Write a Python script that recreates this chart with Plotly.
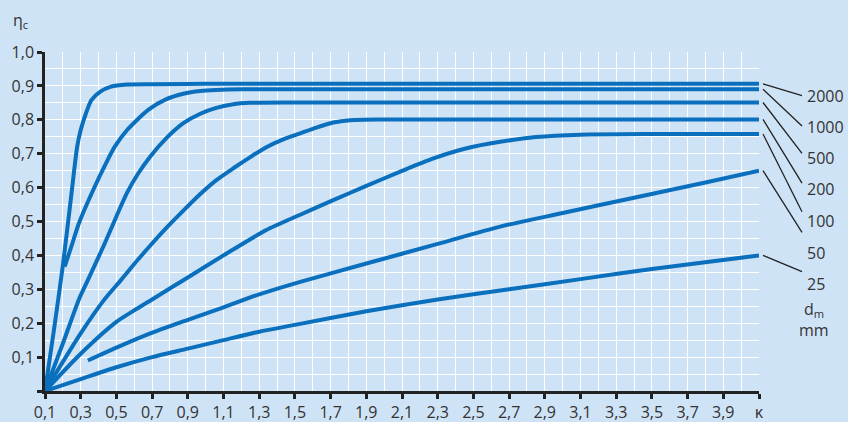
import plotly.graph_objects as go

# ---- data -------------------------------------------------------------
series_names = ["2000", "1000", "500", "200", "100", "50", "25"]

k_2000 = [0.1, 0.15, 0.2, 0.25, 0.28, 0.3, 0.33, 0.36, 0.41, 0.47, 0.56, 0.7, 1.0, 2.5, 4.1]
eta_2000 = [0.0, 0.18, 0.37, 0.59, 0.72, 0.77, 0.82, 0.858, 0.883, 0.898, 0.904, 0.905, 0.906, 0.906, 0.906]

k_1000 = [0.21, 0.25, 0.29, 0.37, 0.44, 0.49, 0.56, 0.68, 0.78, 0.875, 0.97, 1.06, 1.2, 2.0, 4.1]
eta_1000 = [0.367, 0.43, 0.495, 0.593, 0.67, 0.72, 0.77, 0.83, 0.861, 0.877, 0.885, 0.888, 0.89, 0.89, 0.89]

k_500 = [0.1, 0.2, 0.29, 0.34, 0.43, 0.5, 0.56, 0.62, 0.69, 0.78, 0.875, 0.97, 1.06, 1.155, 1.25, 1.5, 2.5, 4.1]
eta_500 = [0.0, 0.14, 0.27, 0.327, 0.43, 0.515, 0.585, 0.64, 0.692, 0.746, 0.79, 0.818, 0.835, 0.846, 0.85, 0.851, 0.851, 0.851]

k_200 = [0.1, 0.3, 0.43, 0.53, 0.62, 0.7, 0.78, 0.875, 0.97, 1.06, 1.155, 1.25, 1.34, 1.435, 1.53, 1.62, 1.715, 1.81, 2.0, 3.0, 4.1]
eta_200 = [0.0, 0.17, 0.268, 0.33, 0.387, 0.435, 0.481, 0.532, 0.581, 0.622, 0.657, 0.69, 0.719, 0.742, 0.76, 0.777, 0.792, 0.799, 0.801, 0.801, 0.801]

k_100 = [0.1, 0.3, 0.5, 0.6, 0.7, 0.9, 1.1, 1.34, 1.53, 1.715, 1.9, 2.09, 2.276, 2.462, 2.65, 2.85, 3.1, 3.5, 4.1]
eta_100 = [0.0, 0.11, 0.204, 0.238, 0.27, 0.335, 0.4, 0.475, 0.52, 0.563, 0.605, 0.647, 0.686, 0.716, 0.735, 0.749, 0.756, 0.758, 0.758]

k_50 = [0.34, 0.5, 0.69, 0.9, 1.1, 1.3, 1.53, 1.9, 2.3, 2.65, 3.0, 3.4, 3.8, 4.1]
eta_50 = [0.09, 0.128, 0.17, 0.21, 0.247, 0.285, 0.322, 0.376, 0.434, 0.485, 0.525, 0.57, 0.615, 0.65]

k_25 = [0.1, 0.3, 0.5, 0.7, 0.9, 1.1, 1.3, 1.5, 1.9, 2.3, 2.7, 3.1, 3.5, 4.1]
eta_25 = [0.0, 0.035, 0.07, 0.1, 0.125, 0.15, 0.175, 0.195, 0.235, 0.27, 0.3, 0.33, 0.36, 0.4]

x_tickvals = [0.1, 0.3, 0.5, 0.7, 0.9, 1.1, 1.3, 1.5, 1.7, 1.9, 2.1, 2.3, 2.5, 2.7, 2.9, 3.1, 3.3, 3.5, 3.7, 3.9, 4.1]
x_ticktext = ["0,1", "0,3", "0,5", "0,7", "0,9", "1,1", "1,3", "1,5", "1,7", "1,9", "2,1",
              "2,3", "2,5", "2,7", "2,9", "3,1", "3,3", "3,5", "3,7", "3,9", "κ"]
y_tickvals = [0.0, 0.1, 0.2, 0.3, 0.4, 0.5, 0.6, 0.7, 0.8, 0.9, 1.0]
y_ticktext = ["", "0,1", "0,2", "0,3", "0,4", "0,5", "0,6", "0,7", "0,8", "0,9", "1,0"]

# label placement (eta level of label centre / leader end)
label_eta = [0.870, 0.780, 0.688, 0.595, 0.502, 0.408, 0.317]
leader_end_eta = [0.871, 0.782, 0.701, 0.613, 0.529, 0.468, 0.352]

# ---- figure -----------------------------------------------------------
BG = "#cfe3f6"
BLUE = "#0a6fbd"
TXT = "#333333"
FONT = "Open Sans"
Y_MIN, Y_MAX = 0.0, 1.0

ks = [k_2000, k_1000, k_500, k_200, k_100, k_50, k_25]
etas = [eta_2000, eta_1000, eta_500, eta_200, eta_100, eta_50, eta_25]


def to_paper(v):
    return (v - Y_MIN) / (Y_MAX - Y_MIN)


fig = go.Figure()
for name, kx, ey in zip(series_names, ks, etas):
    fig.add_trace(go.Scatter(x=kx, y=ey, mode="lines", name=name,
                             line=dict(color=BLUE, width=4, shape="spline", smoothing=0.7),
                             hoverinfo="skip"))

x_end = 4.1
for name, ey, le, lab in zip(series_names, etas, leader_end_eta, label_eta):
    fig.add_shape(type="line", xref="paper", yref="paper", xsizemode="pixel", xanchor=1,
                  x0=4, x1=43, y0=to_paper(ey[-1]), y1=to_paper(le),
                  line=dict(color="#222222", width=1.3))
    fig.add_annotation(x=x_end, y=lab, xref="x", yref="y", text=name, showarrow=False,
                       xanchor="left", yanchor="middle", xshift=46,
                       font=dict(family=FONT, size=16, color=TXT))

fig.add_annotation(x=x_end, y=0.241, xref="x", yref="y", text="d<sub>m</sub>", showarrow=False,
                   xanchor="center", yanchor="middle", xshift=55,
                   font=dict(family=FONT, size=16, color=TXT))
fig.add_annotation(x=x_end, y=0.180, xref="x", yref="y", text="mm", showarrow=False,
                   xanchor="center", yanchor="middle", xshift=55,
                   font=dict(family=FONT, size=16, color=TXT))
fig.add_annotation(x=0, y=1, xref="paper", yref="paper", text="η<sub>c</sub>", showarrow=False,
                   xanchor="center", yanchor="middle", xshift=-25, yshift=32,
                   font=dict(family=FONT, size=16, color=TXT))

fig.update_layout(
    width=848, height=422,
    margin=dict(l=45, r=89, t=52, b=31),
    paper_bgcolor=BG, plot_bgcolor=BG,
    showlegend=False,
    font=dict(family=FONT, size=16, color=TXT),
)
fig.update_xaxes(range=[0.1, 4.1], tickmode="array", tickvals=x_tickvals, ticktext=x_ticktext,
                 automargin=False,
                 showline=True, linecolor="#222222", linewidth=2.5,
                 ticks="outside", ticklen=5, tickwidth=3, tickcolor="#222222",
                 showgrid=True, gridcolor="white", gridwidth=1,
                 minor=dict(tickmode="linear", tick0=0.1, dtick=0.1, showgrid=True,
                            gridcolor="white", gridwidth=1, ticks=""),
                 zeroline=False, tickfont=dict(family=FONT, size=16, color=TXT))
fig.update_yaxes(range=[Y_MIN, Y_MAX], tickmode="array", tickvals=y_tickvals, ticktext=y_ticktext,
                 automargin=False,
                 showline=True, linecolor="#222222", linewidth=2.5,
                 ticks="outside", ticklen=5, tickwidth=3, tickcolor="#222222",
                 showgrid=True, gridcolor="white", gridwidth=1,
                 minor=dict(tickmode="linear", tick0=0, dtick=0.05, showgrid=True,
                            gridcolor="white", gridwidth=1, ticks=""),
                 zeroline=False, tickfont=dict(family=FONT, size=16, color=TXT))

fig.write_html("out.html", config={"displayModeBar": False},
               post_script="document.body.style.margin='0';")
